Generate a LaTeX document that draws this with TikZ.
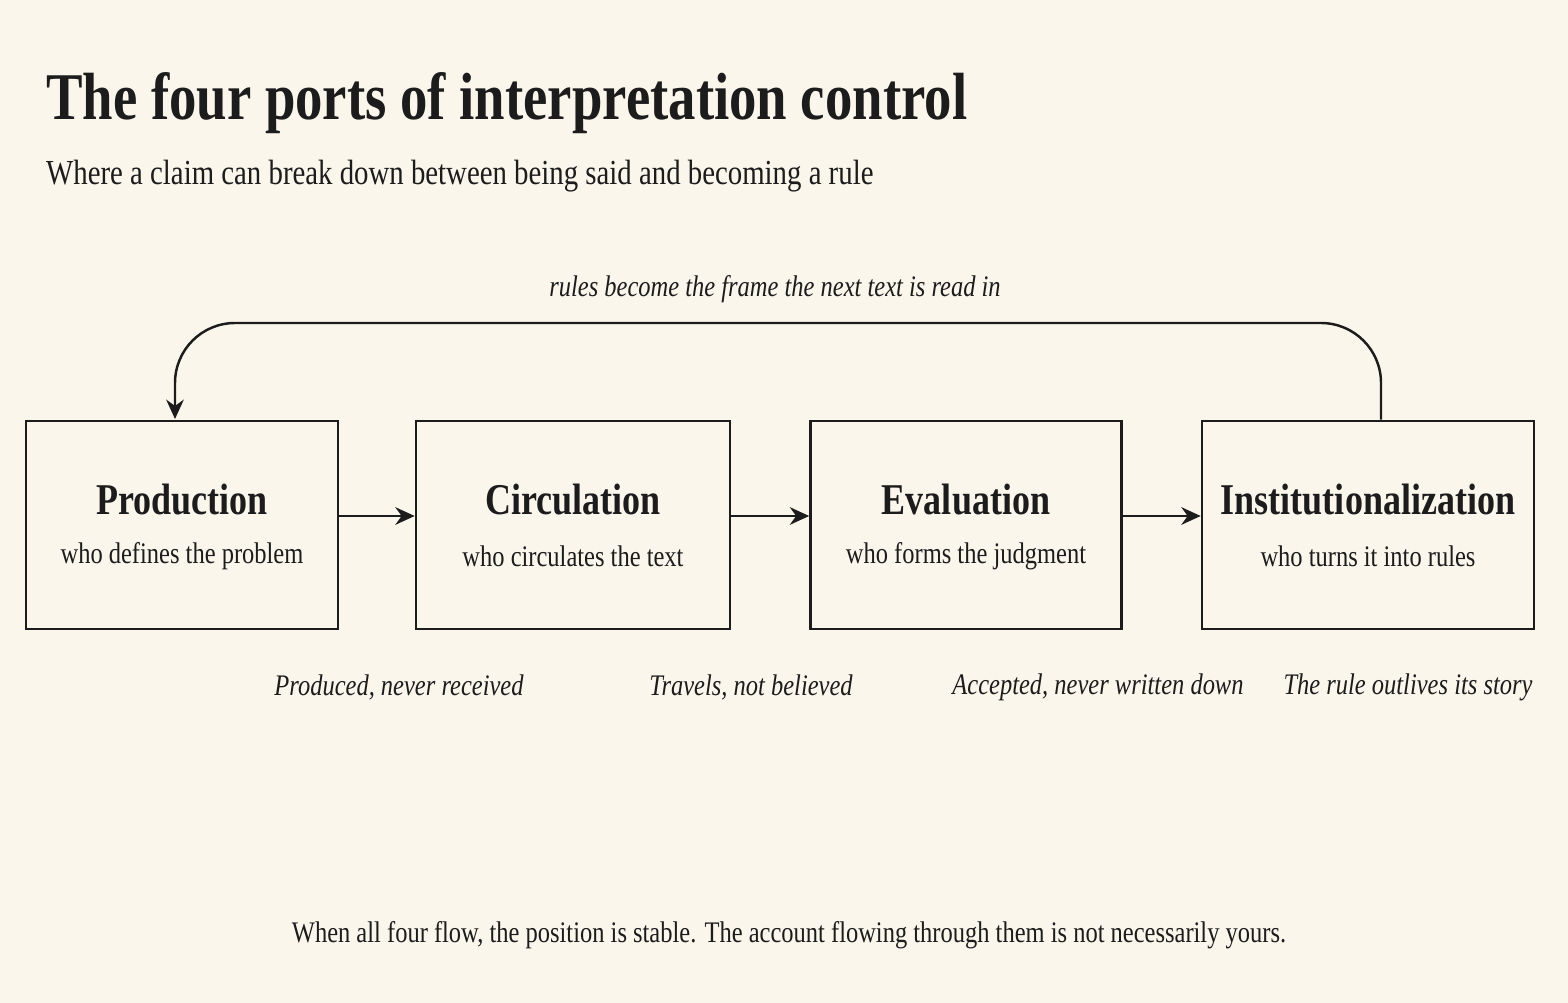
\documentclass[tikz,border=0pt]{standalone}
\usepackage{fontspec}
\setmainfont{Liberation Serif}[FakeStretch=0.82]
\usepackage{xcolor}
\usetikzlibrary{positioning,arrows.meta}
\definecolor{paper}{HTML}{FAF6EC}
\definecolor{ink}{HTML}{1C1C1C}
\tikzset{
  port/.style={draw=ink, line width=1.5pt, fill=paper, minimum width=6.25cm, minimum height=4.16cm},
  flow/.style={-{Stealth[length=11pt,width=10pt]}, line width=1.4pt, draw=ink},
  leak/.style={font=\fontsize{17}{20}\selectfont\itshape, text=ink},
}
\begin{document}
\begin{tikzpicture}[x=0.02cm, y=-0.02cm, text=ink]
  \fill[paper] (0,0) rectangle (1568,1003);
  \useasboundingbox (0,0) rectangle (1568,1003);

  % Titel
  \node[anchor=base west, font=\fontsize{38}{42}\selectfont\bfseries] (title) at (40,120) {The four ports of interpretation control};
  \node[anchor=base west, font=\fontsize{20}{24}\selectfont] (subtitle) at (40,185) {Where a claim can break down between being said and becoming a rule};

  % Boxen
  \foreach \name/\x/\w/\head/\desc in {
    prod/182/312/Production/who defines the problem,
    circ/573/314/Circulation/who circulates the text,
    eval/966/311/Evaluation/who forms the judgment,
    inst/1368/332/Institutionalization/who turns it into rules
  }{
    \node[port, minimum width=\w*0.02cm] (\name) at (\x,525) {};
    \node[font=\fontsize{25}{28}\selectfont\bfseries] (\name-head) at (\x,500) {\head};
    \node[font=\fontsize{17}{20}\selectfont] (\name-desc) at (\x,556) {\desc};
  }

  % Pfeile
  \draw[flow] (prod.east |- 0,516) -- (circ.west |- 0,516);
  \draw[flow] (circ.east |- 0,516) -- (eval.west |- 0,516);
  \draw[flow] (eval.east |- 0,516) -- (inst.west |- 0,516);
  \coordinate (loopin) at (175,419);
  \draw[flow, rounded corners=1.2cm] (inst.north -| 1381,0) -- (1381,323) -- (175,323) -- (loopin);
  \node[leak] (looplabel) at (775,289) {rules become the frame the next text is read in};

  % Bruchstellen
  \node[leak] (l1) at (399,687) {Produced, never received};
  \node[leak] (l2) at (751,687) {Travels, not believed};
  \node[leak] (l3) at (1098,687) {Accepted, never written down};
  \node[leak] (l4) at (1408,687) {The rule outlives its story};

  \node[font=\fontsize{17}{20}\selectfont] (footer) at (789,935) {When all four flow, the position is stable. The account flowing through them is not necessarily yours.};
\end{tikzpicture}
\end{document}
